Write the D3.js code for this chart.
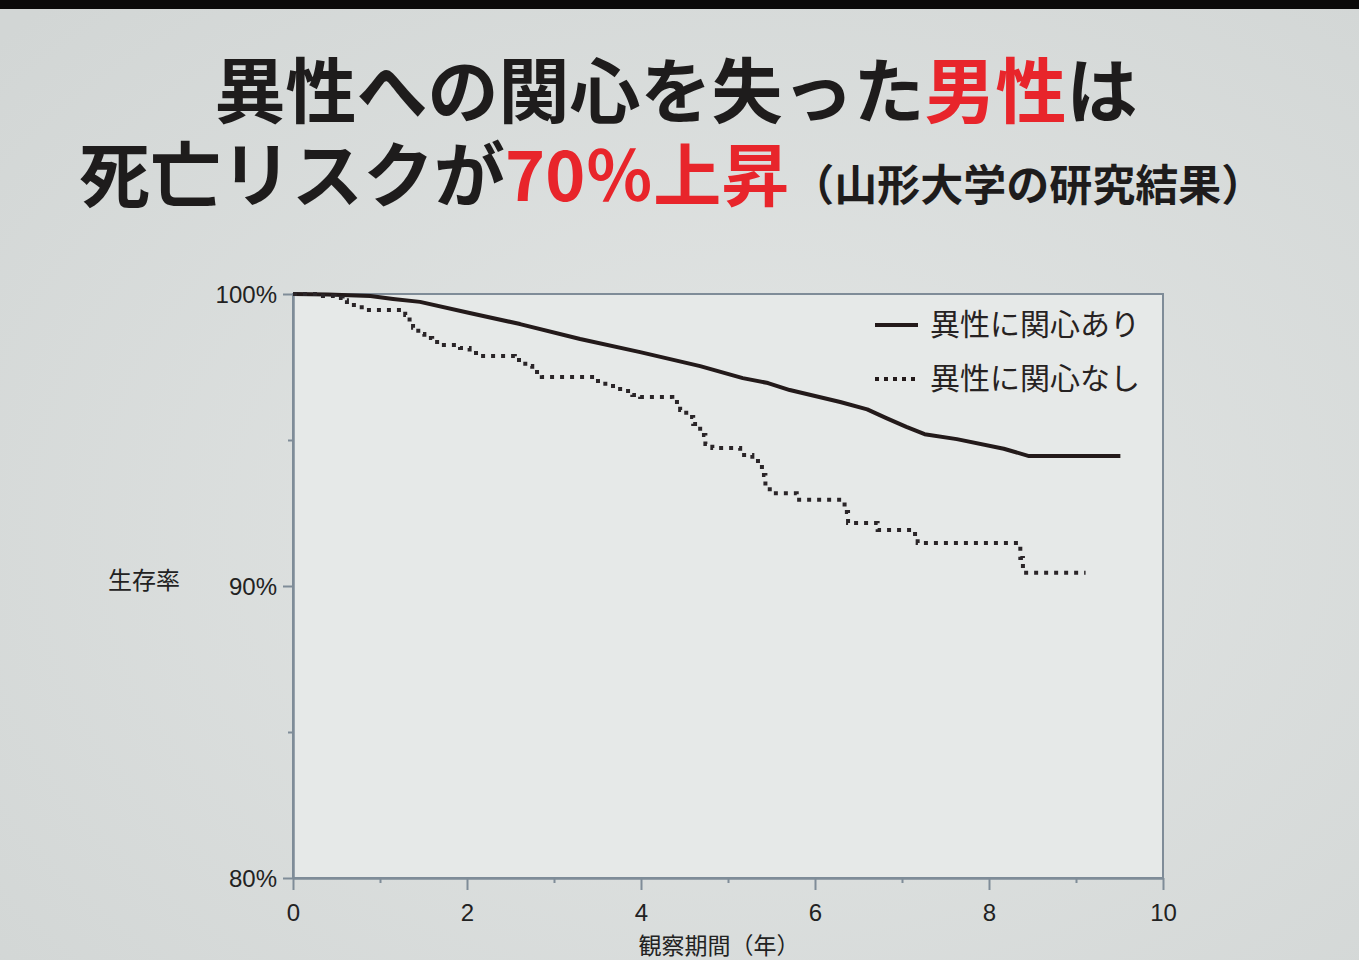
<!DOCTYPE html>
<html>
<head>
<meta charset="utf-8">
<script src="https://cdn.jsdelivr.net/npm/d3@7"></script>
<style>
  html, body { margin: 0; padding: 0; background: #d9dcdb; overflow: hidden; }
  svg { display: block; }
</style>
</head>
<body>
<svg id="chart" width="1359" height="960"></svg>
<script>
// ---- data ----
const titleLine1 = [
  { text: "異性への関心を失った", red: false },
  { text: "男性", red: true },
  { text: "は", red: false }
];
const titleLine2 = [
  { text: "死亡リスクが", red: false },
  { text: "70％上昇", red: true }
];
const subtitle = "（山形大学の研究結果）";

const seriesNames = ["異性に関心あり", "異性に関心なし"];
const yAxisTitle = "生存率";
const xAxisTitle = "観察期間（年）";

const xMajorTicks = [0, 2, 4, 6, 8, 10];
const xMinorTicks = [1, 3, 5, 7, 9];
const yMajorTicks = [80, 90, 100];
const yMinorTicks = [85, 95];
const yTickLabels = ["80%", "90%", "100%"];

// 異性に関心あり (solid)
const interestYears = [0, 0.4, 0.89, 1.15, 1.46, 2.03, 2.61, 3.30, 3.99, 4.68, 5.17, 5.46, 5.71, 6.29, 6.60, 6.82, 7.05, 7.26, 7.63, 8.17, 8.46, 9.51];
const interestSurv  = [100, 99.98, 99.93, 99.83, 99.73, 99.35, 98.97, 98.46, 98.01, 97.53, 97.12, 96.95, 96.71, 96.30, 96.05, 95.75, 95.45, 95.20, 95.03, 94.70, 94.45, 94.45];

// 異性に関心なし (dotted, step)
const noInterestYears = [0, 0.31, 0.48, 0.57, 0.62, 0.79, 1.29, 1.34, 1.38, 1.44, 1.51, 1.60, 1.69, 1.92, 2.03, 2.13, 2.55, 2.67, 2.75, 2.86, 3.47, 3.59, 3.76, 3.90, 3.99, 4.36, 4.45, 4.52, 4.60, 4.68, 4.74, 4.82, 5.14, 5.28, 5.39, 5.43, 5.48, 5.79, 6.34, 6.38, 6.72, 7.15, 7.18, 8.36, 8.39, 9.11];
const noInterestSurv  = [100, 99.93, 99.86, 99.79, 99.62, 99.45, 99.28, 99.04, 98.84, 98.63, 98.49, 98.36, 98.25, 98.15, 97.98, 97.88, 97.74, 97.53, 97.33, 97.16, 97.02, 96.85, 96.68, 96.54, 96.47, 96.30, 96.03, 95.79, 95.55, 95.17, 94.86, 94.73, 94.49, 94.28, 93.80, 93.39, 93.18, 92.95, 92.53, 92.16, 91.92, 91.68, 91.47, 90.96, 90.45, 90.45];

// ---- drawing ----
const svg = d3.select("#chart");
const W = 1359, H = 960;
const jp = "'Noto Sans CJK JP', 'Noto Sans', sans-serif";
const latin = "'Liberation Sans', Arial, sans-serif";
const ink = "#1e1c1c";
const red = "#e8252b";
const axisCol = "#7f8c98";

// background
const defs = svg.append("defs");
const rg = defs.append("radialGradient").attr("id", "bg").attr("cx", "55%").attr("cy", "55%").attr("r", "75%");
rg.append("stop").attr("offset", "0%").attr("stop-color", "#e3e6e5");
rg.append("stop").attr("offset", "100%").attr("stop-color", "#d2d6d5");
svg.append("rect").attr("width", W).attr("height", H).attr("fill", "url(#bg)");
svg.append("rect").attr("width", W).attr("height", 9).attr("fill", "#0b0a0a");

// title
const t1 = svg.append("text").attr("x", 676).attr("y", 117)
  .attr("text-anchor", "middle").attr("font-family", jp).attr("font-weight", 700)
  .attr("font-size", 71);
t1.selectAll("tspan").data(titleLine1).join("tspan")
  .text(d => d.text).attr("fill", d => d.red ? red : ink);

const t2 = svg.append("text").attr("x", 79).attr("y", 201)
  .attr("font-family", jp).attr("font-weight", 700).attr("font-size", 71);
t2.selectAll("tspan.m").data(titleLine2).join("tspan").attr("class", "m")
  .text(d => d.text).attr("fill", d => d.red ? red : ink)
  .attr("font-size", d => d.red ? 68 : 71);
t2.append("tspan").attr("font-size", 43).attr("dx", 2).attr("fill", ink).text(subtitle);

// scales
const x = d3.scaleLinear().domain([0, 10]).range([293, 1163]);
const y = d3.scaleLinear().domain([80, 100]).range([878, 294]);

// plot area
svg.append("rect").attr("x", x(0)).attr("y", y(100))
  .attr("width", x(10) - x(0)).attr("height", y(80) - y(100))
  .attr("fill", "#e6e9e8").attr("stroke", axisCol).attr("stroke-width", 2);

// axes
function styleAxis(g) {
  g.select(".domain").attr("stroke", axisCol).attr("stroke-width", 2);
  g.selectAll(".tick line").attr("stroke", axisCol).attr("stroke-width", 2);
  g.selectAll(".tick text").attr("fill", "#222").attr("font-family", latin).attr("font-size", 24);
}
svg.append("g").attr("transform", `translate(0,${y(80)})`)
  .call(d3.axisBottom(x).tickValues(xMinorTicks).tickSize(5).tickFormat("").tickSizeOuter(0))
  .call(styleAxis);
svg.append("g").attr("transform", `translate(0,${y(80)})`)
  .call(d3.axisBottom(x).tickValues(xMajorTicks).tickSize(12).tickPadding(14).tickFormat(d3.format("d")).tickSizeOuter(0))
  .call(styleAxis);
svg.append("g").attr("transform", `translate(${x(0)},0)`)
  .call(d3.axisLeft(y).tickValues(yMinorTicks).tickSize(5).tickFormat("").tickSizeOuter(0))
  .call(styleAxis);
svg.append("g").attr("transform", `translate(${x(0)},0)`)
  .call(d3.axisLeft(y).tickValues(yMajorTicks).tickSize(10).tickPadding(6)
    .tickFormat((d, i) => yTickLabels[i]).tickSizeOuter(0))
  .call(styleAxis)
  .call(g => g.selectAll(".tick text").attr("dy", "0.35em"));

// axis titles
svg.append("text").attr("x", 108).attr("y", 589).attr("font-family", jp)
  .attr("font-size", 24).attr("fill", "#222").text(yAxisTitle);
svg.append("text").attr("x", 719).attr("y", 954).attr("text-anchor", "middle")
  .attr("font-family", jp).attr("font-size", 23).attr("fill", "#222").text(xAxisTitle);

// lines
const solidData = interestYears.map((t, i) => [t, interestSurv[i]]);
const dotData = noInterestYears.map((t, i) => [t, noInterestSurv[i]]);
const lineLin = d3.line().x(d => x(d[0])).y(d => y(d[1]));
const lineStep = d3.line().x(d => x(d[0])).y(d => y(d[1])).curve(d3.curveStepAfter);

svg.append("path").datum(solidData).attr("d", lineLin)
  .attr("fill", "none").attr("stroke", "#231a1a").attr("stroke-width", 4)
  .attr("stroke-linejoin", "round");
svg.append("path").datum(dotData).attr("d", lineStep)
  .attr("fill", "none").attr("stroke", "#2a2528").attr("stroke-width", 4)
  .attr("stroke-dasharray", "4,6");

// legend
const legY = [325, 379];
const leg = svg.append("g");
seriesNames.forEach((name, i) => {
  leg.append("line").attr("x1", 875).attr("x2", 918).attr("y1", legY[i]).attr("y2", legY[i])
    .attr("stroke", "#231a1a").attr("stroke-width", 4)
    .attr("stroke-dasharray", i === 1 ? "4,5" : null);
  leg.append("text").attr("x", 930).attr("y", legY[i] + 10).attr("font-family", jp)
    .attr("font-size", 30).attr("fill", "#262222").text(name);
});
</script>
</body>
</html>
